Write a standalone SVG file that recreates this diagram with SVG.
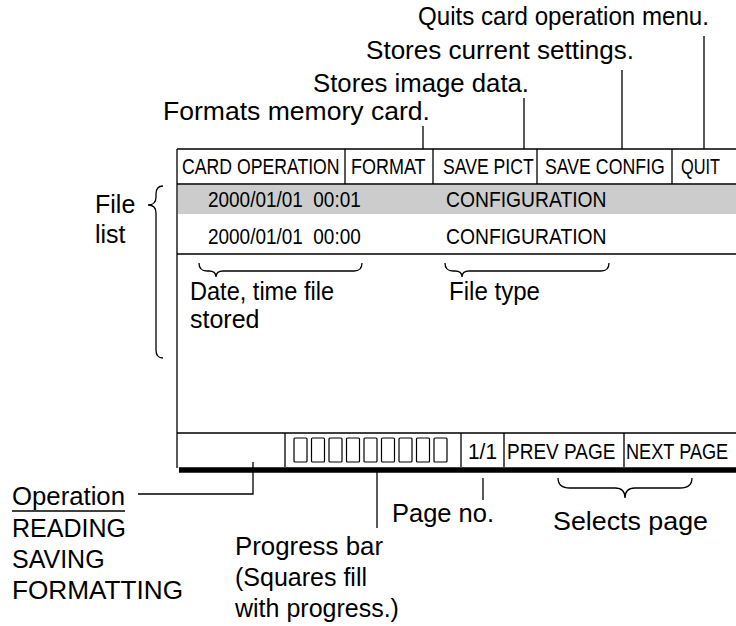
<svg xmlns="http://www.w3.org/2000/svg" width="736" height="626" viewBox="0 0 736 626">
<style>
.ln{stroke:#000;stroke-width:1.3;fill:none}
.lbl{font-family:"Liberation Sans",Arial,sans-serif;font-size:25px;fill:#000}
.cell{font-family:"Liberation Sans",Arial,sans-serif;font-size:22px;fill:#000}
.sq{stroke:#000;stroke-width:1.2;fill:#fff}
</style>
<g id="screen">
<rect x="178" y="184.5" width="558" height="29.5" fill="#cccccc"/>
<path class="ln" d="M177,149 H736 M177,149 V468 M177,184 H736 M177,254 H736 M177,433 H736"/>
<path class="ln" d="M345,149 V184 M433,149 V184 M537,149 V184 M672,149 V184"/>
<path class="ln" d="M285,433 V467 M461,433 V467 M504,433 V467 M624,433 V467"/>
<line x1="179" y1="470" x2="736" y2="470" stroke="#000" stroke-width="5.5"/>
</g>
<g id="header">
<text class="cell" transform="translate(182,174) scale(0.803,1)">CARD OPERATION</text>
<text class="cell" transform="translate(351,174) scale(0.818,1)">FORMAT</text>
<text class="cell" transform="translate(443,174) scale(0.801,1)">SAVE PICT</text>
<text class="cell" transform="translate(545,174) scale(0.805,1)">SAVE CONFIG</text>
<text class="cell" transform="translate(681,174) scale(0.742,1)">QUIT</text>
</g>
<g id="rows">
<text class="cell" transform="translate(208,207) scale(0.862,1)" xml:space="preserve">2000/01/01  00:01</text>
<text class="cell" transform="translate(446,207) scale(0.878,1)">CONFIGURATION</text>
<text class="cell" transform="translate(208,244) scale(0.862,1)" xml:space="preserve">2000/01/01  00:00</text>
<text class="cell" transform="translate(446,244) scale(0.878,1)">CONFIGURATION</text>
</g>
<g id="bottomrow">
<g id="progress-squares">
<rect class="sq" x="294" y="438" width="13" height="24" rx="1"/>
<rect class="sq" x="311.5" y="438" width="13" height="24" rx="1"/>
<rect class="sq" x="329" y="438" width="13" height="24" rx="1"/>
<rect class="sq" x="346.5" y="438" width="13" height="24" rx="1"/>
<rect class="sq" x="364" y="438" width="13" height="24" rx="1"/>
<rect class="sq" x="381.5" y="438" width="13" height="24" rx="1"/>
<rect class="sq" x="399" y="438" width="13" height="24" rx="1"/>
<rect class="sq" x="416.5" y="438" width="13" height="24" rx="1"/>
<rect class="sq" x="434" y="438" width="13" height="24" rx="1"/>
</g>
<text class="cell" transform="translate(468,459) scale(0.948,1)">1/1</text>
<text class="cell" transform="translate(507,459) scale(0.865,1)">PREV PAGE</text>
<text class="cell" transform="translate(626,459) scale(0.826,1)">NEXT PAGE</text>
</g>
<g id="connectors">
<path class="ln" d="M423,126 V149 M524,98 V149 M622,70 V149 M704,36 V149"/>
<path class="ln" d="M138,494 H253 V462"/>
<path class="ln" d="M377,468 V528"/>
<path class="ln" d="M483,478 V500"/>
<path class="ln" d="M163,186 Q156,186 156,194 L156,197 Q156,205 148,205 Q156,205 156,213 L156,350 Q156,358 163,358"/>
<path class="ln" d="M199,263 Q199,271 207,271 L209,271 Q216,271 216,277 Q216,271 223,271 L354,271 Q362,271 362,263"/>
<path class="ln" d="M445,263 Q445,271 453,271 L455,271 Q462,271 462,277 Q462,271 469,271 L601,271 Q609,271 609,263"/>
<path class="ln" d="M558,478 Q558,488 570,488 L615,488 Q625,488 625,498 Q625,488 635,488 L680,488 Q692,488 692,478"/>
<line class="ln" x1="12" y1="511" x2="125" y2="511"/>
</g>
<g id="labels">
<text class="lbl" x="418" y="25" textLength="291" lengthAdjust="spacingAndGlyphs">Quits card operation menu.</text>
<text class="lbl" x="366" y="59" textLength="268" lengthAdjust="spacingAndGlyphs">Stores current settings.</text>
<text class="lbl" x="313" y="92" textLength="216" lengthAdjust="spacingAndGlyphs">Stores image data.</text>
<text class="lbl" x="163" y="120" textLength="267" lengthAdjust="spacingAndGlyphs">Formats memory card.</text>
<text class="lbl" x="95" y="213">File</text>
<text class="lbl" x="95" y="243">list</text>
<text class="lbl" x="190" y="300" textLength="144" lengthAdjust="spacingAndGlyphs">Date, time file</text>
<text class="lbl" x="190" y="328">stored</text>
<text class="lbl" x="449" y="300" textLength="91" lengthAdjust="spacingAndGlyphs">File type</text>
<text class="lbl" x="12" y="505" textLength="113" lengthAdjust="spacingAndGlyphs">Operation</text>
<text class="lbl" x="12" y="537">READING</text>
<text class="lbl" x="12" y="568">SAVING</text>
<text class="lbl" x="12" y="599" textLength="171" lengthAdjust="spacingAndGlyphs">FORMATTING</text>
<text class="lbl" x="235" y="555" textLength="148" lengthAdjust="spacingAndGlyphs">Progress bar</text>
<text class="lbl" x="235" y="586">(Squares fill</text>
<text class="lbl" x="235" y="617">with progress.)</text>
<text class="lbl" x="392" y="522" textLength="102" lengthAdjust="spacingAndGlyphs">Page no.</text>
<text class="lbl" x="553" y="530" textLength="155" lengthAdjust="spacingAndGlyphs">Selects page</text>
</g>
</svg>
